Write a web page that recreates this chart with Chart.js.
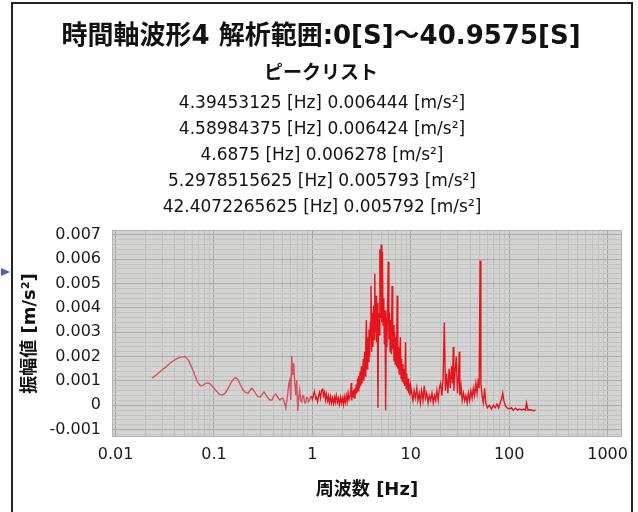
<!DOCTYPE html>
<html>
<head>
<meta charset="utf-8">
<script src="https://cdn.jsdelivr.net/npm/chart.js@4.4.0/dist/chart.umd.min.js"></script>
<style>
html, body { margin: 0; padding: 0; background: #fff; }
canvas { display: block; }
</style>
</head>
<body>
<canvas id="spectrum-chart" width="638" height="512"></canvas>
<script>
const titleText = "時間軸波形4 解析範囲:0[S]〜40.9575[S]";
const peakTitle = "ピークリスト";
const peakFreqs = ["4.39453125", "4.58984375", "4.6875", "5.2978515625", "42.4072265625"];
const peakAmps = ["0.006444", "0.006424", "0.006278", "0.005793", "0.005792"];
const xTickValues = [0.01, 0.1, 1, 10, 100, 1000];
const yTickLabels = ["-0.001", "0", "0.001", "0.002", "0.003", "0.004", "0.005", "0.006", "0.007"];

// 0.02 - 1 Hz
const freqLow = [0.0235, 0.026, 0.029, 0.033, 0.0365, 0.041, 0.046, 0.051, 0.055, 0.058,
    0.062, 0.0651, 0.069, 0.0731, 0.078, 0.0821, 0.087, 0.0922, 0.099, 0.106,
    0.114, 0.122, 0.131, 0.140, 0.150, 0.161, 0.168, 0.176, 0.187, 0.198,
    0.210, 0.223, 0.233, 0.244, 0.256, 0.268, 0.281, 0.294, 0.308, 0.323,
    0.338, 0.354, 0.371, 0.388, 0.407, 0.426, 0.446, 0.467, 0.484, 0.501,
    0.52, 0.537, 0.55, 0.563, 0.577, 0.589, 0.603, 0.617, 0.632, 0.647,
    0.662, 0.678, 0.693, 0.710, 0.726, 0.743, 0.76, 0.778, 0.796, 0.815,
    0.834, 0.854, 0.874, 0.895, 0.916, 0.937, 0.958, 0.98];
const ampLow = [0.00112, 0.00125, 0.00142, 0.0016, 0.00176, 0.0019, 0.00198, 0.002, 0.00186, 0.00165,
    0.00138, 0.00115, 0.00092, 0.0008, 0.00083, 0.0009, 0.00092, 0.00087, 0.00072, 0.00058,
    0.00045, 0.00042, 0.00052, 0.00072, 0.00095, 0.00112, 0.00113, 0.00104, 0.00082, 0.00063,
    0.00052, 0.0005, 0.00062, 0.00071, 0.00058, 0.00046, 0.00036, 0.00034, 0.00045, 0.00055,
    0.00042, 0.0003, 0.00022, 0.00022, 0.0004, 0.00046, 0.00032, 0.00022, 0.00028, 0.0003,
    0.00012, -0.00011, 0.0002, 0.0005, 0.0009, 0.00104, 0.00022, 0.00202, 0.00124, 0.00173,
    0.0009, 0.00042, 0.00104, -0.00023, 0.0003, 0.00063, 0.0002, 0.00014, 0.0004, 0.00038,
    0.00012, 0.0001, 0.00032, 0.0003, 0.00015, 0.00022, 0.00035, 0.00038];

// 1 - 2.4 Hz
const freqMid = [1.0, 1.03, 1.05, 1.08, 1.1, 1.13, 1.16, 1.18, 1.21, 1.24,
    1.27, 1.30, 1.33, 1.36, 1.39, 1.43, 1.46, 1.49, 1.53, 1.56,
    1.60, 1.64, 1.68, 1.71, 1.75, 1.80, 1.84, 1.88, 1.93, 1.97,
    2.02, 2.07, 2.11, 2.16, 2.21, 2.26, 2.31, 2.36];
const ampMid = [0.00025, 0.00045, 0.00057, 0.00028, 0.00033, 0.00015, 0.00042, 0.00053, 0.0003, 0.00062,
    0.00066, 0.0004, 0.00055, 0.00022, 0.00045, 0.00018, 0.00038, 0.00012, 0.00035, 0.0001,
    0.0003, 0.00008, 0.00032, 0.00014, 0.0004, 0.00012, 0.00028, 0.00005, 0.00033, 0.0001,
    0.0003, 0.00004, 0.00035, 0.00012, 0.0004, 0.00015, 0.0005, 0.00025];

// 2.4 - 10 Hz
const freqPeak = [2.40, 2.44, 2.48, 2.51, 2.55, 2.59, 2.63, 2.67, 2.71, 2.75,
    2.79, 2.83, 2.88, 2.92, 2.96, 3.01, 3.05, 3.10, 3.14, 3.19,
    3.24, 3.29, 3.34, 3.39, 3.44, 3.49, 3.54, 3.60, 3.65, 3.71,
    3.76, 3.82, 3.88, 3.94, 4.00, 4.06, 4.12, 4.18, 4.24, 4.31,
    4.37, 4.44, 4.50, 4.57, 4.64, 4.71, 4.78, 4.85, 4.93, 5.00,
    5.08, 5.15, 5.23, 5.31, 5.39, 5.47, 5.55, 5.64, 5.72, 5.81,
    5.90, 5.99, 6.08, 6.17, 6.26, 6.36, 6.45, 6.55, 6.65, 6.75,
    6.85, 6.95, 7.06, 7.16, 7.27, 7.38, 7.49, 7.61, 7.72, 7.84,
    7.96, 8.08, 8.20, 8.32, 8.45, 8.58, 8.70, 8.84, 8.97, 9.10,
    9.24, 9.38, 9.52, 9.67, 9.81, 9.96];
const ampPeak = [0.00025, 0.00045, 0.00092, 0.0002, 0.0006, 0.00035, 0.00065, 0.0003, 0.0007, 0.00045,
    0.00085, 0.0005, 0.0011, 0.0006, 0.0012, 0.0007, 0.0014, 0.0008, 0.0016, 0.0009,
    0.0013, 0.0019, 0.001, 0.0022, 0.0012, 0.0026, 0.0035, 0.0015, 0.0028, 0.0018,
    0.0031, 0.002, 0.0034, 0.0049, 0.0022, 0.0038, 0.0024, 0.0041, 0.0027, 0.0054,
    0.003, 0.0045, 0.0026, 0.0042, -0.0001, 0.0038, 0.0029, 0.0064, 0.0036, 0.0066,
    0.0034, 0.0063, 0.0033, 0.0044, 0.0025, 0.0039, -0.0002, 0.0036, 0.0024, 0.0041,
    0.0059, 0.0027, 0.0038, 0.0022, 0.0035, 0.0021, 0.0049, 0.0023, 0.0033, 0.0018,
    0.003, 0.0017, 0.0028, 0.0016, 0.0045, 0.0015, 0.0024, 0.0013, 0.0021, 0.0028,
    0.0011, 0.0019, 0.001, 0.0017, 0.0009, 0.0015, 0.0008, 0.0026, 0.0007, 0.0013,
    0.0006, 0.0011, 0.0005, 0.0009, 0.0004, 0.0008];

// 10 - 200 Hz
const freqHigh = [10.2, 10.5, 10.8, 11.1, 11.5, 11.8, 12.2, 12.5, 12.9, 13.3,
    13.7, 14.1, 14.5, 15.0, 15.4, 15.9, 16.4, 16.9, 17.4, 17.9,
    18.4, 19.0, 19.5, 20.1, 20.7, 21.3, 21.9, 22.5, 23.1, 23.8,
    24.5, 25.2, 25.9, 26.6, 27.0, 27.4, 28.2, 29.0, 29.8, 30.6,
    31.1, 31.5, 32.4, 33.3, 34.3, 35.3, 36.3, 37.4, 38.5, 39.6,
    40.8, 42.0, 43.2, 44.5, 45.8, 47.1, 48.5, 49.5, 50.6, 51.5,
    53.0, 54.6, 56.2, 57.8, 60, 63, 66, 69, 72, 75,
    78, 81, 84, 86, 88, 91, 95, 100, 105, 110,
    116, 122, 128, 134, 140, 146, 150, 155, 162, 170,
    178, 185];
const ampHigh = [0.0005, 0.0002, 0.0006, 0.0003, 0.0007, 0.0002, 0.0005, 0.0001, 0.0006, 0.0002,
    0.0008, 0.0003, 0.0005, 0.0001, 0.0004, 0.0002, 0.0005, 0.0001, 0.0004, 0.0002,
    0.0006, 0.0002, 0.0007, 0.0009, 0.0004, 0.0011, 0.0034, 0.0006, 0.0013, 0.0005,
    0.0015, 0.0007, 0.0016, 0.0009, 0.0024, 0.0006, 0.0014, 0.002, 0.0005, 0.0012,
    0.0022, 0.0004, 0.0008, 0.0002, 0.0005, 0.0002, 0.0004, 0.0001, 0.0005, 0.0002,
    0.0006, 0.0003, 0.0007, 0.0004, 0.0009, 0.0005, 0.0011, 0.0007, 0.00595, 0.0009,
    0.0004, 0.0001, 0.0007, 0.0001, -0.0001, 0.0, -0.00015, 0.0, -0.0001, 0.00005,
    -0.0001, 0.0001, 0.0003, 0.0005, 0.0002, 0.0, -0.0001, -0.00015, -0.0001, -0.0002,
    -0.00012, -0.0002, -0.00015, -0.0002, -0.00015, -0.0002, 0.0001, -0.0002, -0.00018, -0.0002,
    -0.00022, -0.0002];

const freq = freqLow.concat(freqMid, freqPeak, freqHigh);
const amp = ampLow.concat(ampMid, ampPeak, ampHigh);
const points = freq.map((f, i) => ({ x: f, y: amp[i] }));

const jpFont = '"Noto Sans CJK JP", sans-serif';
const numFont = '"DejaVu Sans", "Noto Sans CJK JP", sans-serif';

const plotBackground = {
    id: 'plotBackground',
    beforeDraw(chart) {
        const a = chart.chartArea;
        const ctx = chart.ctx;
        ctx.save();
        ctx.fillStyle = '#d3d3d1';
        ctx.fillRect(a.left, a.top, a.right - a.left, a.bottom - a.top);
        ctx.restore();
    },
    afterDraw(chart) {
        const a = chart.chartArea;
        const ctx = chart.ctx;
        ctx.save();
        ctx.strokeStyle = '#b4b4b4';
        ctx.lineWidth = 1;
        ctx.strokeRect(a.left + 0.5, a.top + 0.5, a.right - a.left - 1, a.bottom - a.top - 1);

        // frame and pointer
        ctx.strokeStyle = '#222';
        ctx.lineWidth = 2;
        ctx.strokeRect(12, 3, 620, 520);
        ctx.fillStyle = '#4a5cb3';
        ctx.beginPath();
        ctx.moveTo(1, 268);
        ctx.lineTo(10, 272);
        ctx.lineTo(1, 276);
        ctx.closePath();
        ctx.fill();

        // header texts
        ctx.fillStyle = '#111';
        ctx.textAlign = 'center';
        ctx.textBaseline = 'middle';
        ctx.font = 'bold 26px ' + numFont;
        ctx.fillText(titleText, 321, 37);
        ctx.font = 'bold 19px ' + jpFont;
        ctx.fillText(peakTitle, 321, 72);
        ctx.font = '17px ' + numFont;
        for (let i = 0; i < peakFreqs.length; i++) {
            ctx.fillText(peakFreqs[i] + ' [Hz] ' + peakAmps[i] + ' [m/s²]', 322, 104 + 26 * i);
        }
        ctx.restore();
    }
};

new Chart(document.getElementById("spectrum-chart"), {
    type: 'line',
    data: {
        datasets: [{
            data: points,
            borderColor: '#e8141c',
            borderWidth: 1.4,
            pointRadius: 0,
            tension: 0,
            segment: {
                borderColor: ctx => ctx.p1.parsed.x < 1 ? '#d9525f' : undefined
            }
        }]
    },
    options: {
        responsive: false,
        animation: false,
        layout: {
            padding: { top: 230, left: 14, right: 16, bottom: 4 }
        },
        plugins: {
            legend: { display: false },
            tooltip: { enabled: false }
        },
        scales: {
            x: {
                type: 'logarithmic',
                min: 0.0092,
                max: 1400,
                afterBuildTicks(scale) {
                    const ticks = [];
                    xTickValues.forEach(d => {
                        for (let m = 1; m <= 9; m++) {
                            const v = d * m;
                            if (v >= scale.min && v <= scale.max) ticks.push({ value: v });
                        }
                    });
                    scale.ticks = ticks;
                },
                afterFit(scale) {
                    scale.height = 71;
                },
                grid: {
                    drawTicks: false,
                    color: ctx => xTickValues.includes(ctx.tick.value) ? '#a6a6a6' : '#c2c2c2',
                    lineWidth: 1
                },
                border: { display: false },
                ticks: {
                    autoSkip: false,
                    maxRotation: 0,
                    padding: 8,
                    color: '#1a1a1a',
                    font: { family: numFont, size: 16 },
                    callback: value => xTickValues.includes(value) ? String(value) : ''
                },
                title: {
                    display: true,
                    text: '周波数 [Hz]',
                    color: '#111',
                    font: { family: numFont, size: 18, weight: 'bold' },
                    padding: { top: 0, bottom: 7 }
                }
            },
            y: {
                min: -0.0013,
                max: 0.0072,
                afterBuildTicks(scale) {
                    const ticks = [];
                    for (let k = -6; k <= 36; k++) ticks.push({ value: k / 5000 });
                    scale.ticks = ticks;
                },
                afterFit(scale) {
                    scale.width = 98;
                },
                grid: {
                    drawTicks: false,
                    color: ctx => {
                        const v = ctx.tick.value * 1000;
                        return Math.abs(v - Math.round(v)) < 1e-6 ? '#acacac' : '#c4c4c4';
                    },
                    lineWidth: 1
                },
                border: { display: false },
                ticks: {
                    autoSkip: false,
                    padding: 11,
                    color: '#1a1a1a',
                    font: { family: numFont, size: 16 },
                    callback: value => {
                        const v = value * 1000;
                        if (Math.abs(v - Math.round(v)) > 1e-6) return '';
                        return yTickLabels[Math.round(v) + 1];
                    }
                },
                title: {
                    display: true,
                    text: '振幅値 [m/s²]',
                    color: '#111',
                    font: { family: numFont, size: 18, weight: 'bold' },
                    padding: { top: 6, bottom: 0 }
                }
            }
        }
    },
    plugins: [plotBackground]
});
</script>
</body>
</html>
